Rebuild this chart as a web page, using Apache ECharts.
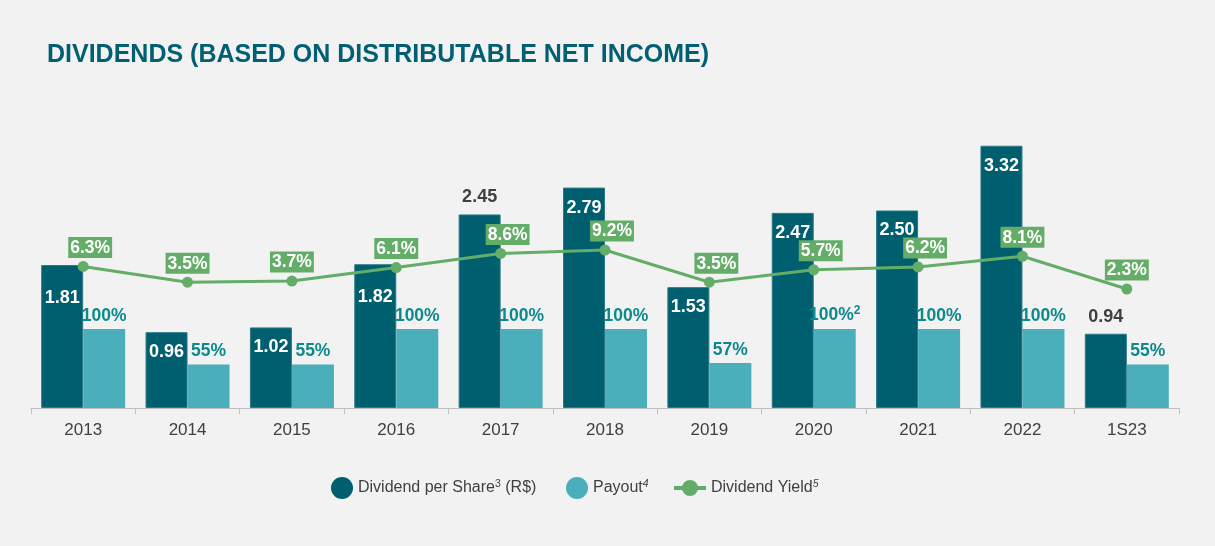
<!DOCTYPE html>
<html>
<head>
<meta charset="utf-8">
<script src="https://cdn.jsdelivr.net/npm/echarts@6/dist/echarts.min.js"></script>
<style>
html,body{margin:0;padding:0;background:#f2f2f2;}
#chart{width:1215px;height:546px;}
</style>
</head>
<body>
<div id="chart"></div>
<script>
const categories = ['2013','2014','2015','2016','2017','2018','2019','2020','2021','2022','1S23'];
const dividendPerShare = [1.81, 0.96, 1.02, 1.82, 2.45, 2.79, 1.53, 2.47, 2.50, 3.32, 0.94];
const payout = [100, 55, 55, 100, 100, 100, 57, 100, 100, 100, 55];
const payoutNotes = ['', '', '', '', '', '', '', '2', '', '', ''];
const dividendYield = [6.3, 3.5, 3.7, 6.1, 8.6, 9.2, 3.5, 5.7, 6.2, 8.1, 2.3];

const FONT = '"Liberation Sans", Arial, sans-serif';
const DARK = '#005f6f';
const LIGHT = '#4bafbb';
const GREEN = '#64ad68';
const TEAL_TXT = '#0b8a8d';
const TXT = '#404040';

// label placement (style, not data)
const outsideLabelCats = ['2017', '1S23'];
const lowLabelCats = ['2013', '2016'];
const shiftedYieldLabelCats = ['2013', '2017', '2018', '2019', '2020', '2021'];

const darkData = dividendPerShare.map((v, i) => {
  const c = categories[i];
  let label;
  if (outsideLabelCats.includes(c)) {
    label = { position: 'top', distance: 8, color: TXT };
  } else if (lowLabelCats.includes(c)) {
    label = { position: 'insideTop', distance: 24, color: '#ffffff' };
  } else {
    label = { position: 'insideTop', distance: 11, color: '#ffffff' };
  }
  return { value: v, label: label };
});

const payoutData = payout.map((v, i) => ({ value: v, note: payoutNotes[i] }));

const yieldData = dividendYield.map((v, i) => ({
  value: v,
  label: { offset: [shiftedYieldLabelCats.includes(categories[i]) ? 7 : 0, 0] }
}));

const legendText = {
  fontFamily: FONT, fontSize: 16, color: TXT,
  rich: {
    t: { fontFamily: FONT, fontSize: 16, color: TXT },
    s: { fontFamily: FONT, fontSize: 10.5, color: TXT, padding: [0, 0, 7, 0] },
    si: { fontFamily: FONT, fontSize: 10.5, fontStyle: 'italic', color: TXT, padding: [0, 0, 7, 0] }
  }
};
const legendFormatter = function (name) {
  if (name === 'Dividend per Share') return '{t|Dividend per Share}{s|3}{t| (R$)}';
  if (name === 'Payout') return '{t|Payout}{si|4}';
  return '{t|Dividend Yield}{si|5}';
};

const chart = echarts.init(document.getElementById('chart'));
chart.setOption({
  backgroundColor: '#f2f2f2',
  animation: false,
  textStyle: { fontFamily: FONT },
  title: {
    text: 'DIVIDENDS (BASED ON DISTRIBUTABLE NET INCOME)',
    left: 42, top: 38,
    textStyle: { fontFamily: FONT, fontSize: 25, fontWeight: 'bold', color: '#005f73' }
  },
  legend: [
    {
      left: 326, top: 472, itemWidth: 22, itemHeight: 22,
      itemStyle: { borderWidth: 0 },
      textStyle: legendText, formatter: legendFormatter,
      data: [{ name: 'Dividend per Share', icon: 'circle' }]
    },
    {
      left: 561, top: 472, itemWidth: 22, itemHeight: 22,
      itemStyle: { borderWidth: 0 },
      textStyle: legendText, formatter: legendFormatter,
      data: [{ name: 'Payout', icon: 'circle' }]
    },
    {
      left: 667, top: 474, itemWidth: 32, itemHeight: 20,
      lineStyle: { width: 4 },
      textStyle: legendText, formatter: legendFormatter,
      data: [{ name: 'Dividend Yield' }]
    }
  ],
  grid: { left: 31, right: 36, top: 92, bottom: 138, containLabel: false },
  xAxis: {
    type: 'category',
    data: categories,
    axisLine: { lineStyle: { color: '#bfbfbf', width: 1 } },
    axisTick: { show: true, length: 6, lineStyle: { color: '#bfbfbf' } },
    axisLabel: { fontFamily: FONT, fontSize: 17, color: TXT, margin: 14 }
  },
  yAxis: [
    { type: 'value', min: 0, max: 4, show: false, splitLine: { show: false } },
    { type: 'value', min: 0, max: 400, show: false, splitLine: { show: false } },
    { type: 'value', min: -18.76, max: 37.17, show: false, splitLine: { show: false } }
  ],
  series: [
    {
      name: 'Dividend per Share',
      type: 'bar',
      yAxisIndex: 0,
      barWidth: 42,
      barGap: '0%',
      data: darkData,
      itemStyle: { color: DARK, borderColor: '#2b7a87', borderWidth: 1 },
      label: {
        show: true,
        fontFamily: FONT, fontSize: 18, fontWeight: 'bold',
        formatter: p => p.value.toFixed(2)
      },
      z: 2
    },
    {
      name: 'Payout',
      type: 'bar',
      yAxisIndex: 1,
      barWidth: 42,
      barGap: '0%',
      data: payoutData,
      itemStyle: { color: LIGHT },
      label: {
        show: true, position: 'top', distance: 4,
        fontFamily: FONT, fontSize: 17.5, fontWeight: 'bold', color: TEAL_TXT,
        formatter: p => p.data.note ? '{v|' + p.value + '%}{n|' + p.data.note + '}' : '{v|' + p.value + '%}',
        rich: {
          v: { fontFamily: FONT, fontSize: 17.5, fontWeight: 'bold', color: TEAL_TXT },
          n: { fontFamily: FONT, fontSize: 12, fontWeight: 'bold', color: TEAL_TXT, padding: [0, 0, 8, 0] }
        }
      },
      z: 2
    },
    {
      name: 'Dividend Yield',
      type: 'line',
      yAxisIndex: 2,
      data: yieldData,
      symbol: 'circle',
      symbolSize: 11,
      lineStyle: { color: GREEN, width: 3 },
      itemStyle: { color: GREEN },
      label: {
        show: true, position: 'top', distance: 3,
        fontFamily: FONT, fontSize: 17.5, fontWeight: 'bold', color: '#ffffff',
        backgroundColor: GREEN, padding: [2, 2, 1, 2],
        formatter: p => p.value.toFixed(1) + '%'
      },
      z: 5
    }
  ]
});
</script>
</body>
</html>
